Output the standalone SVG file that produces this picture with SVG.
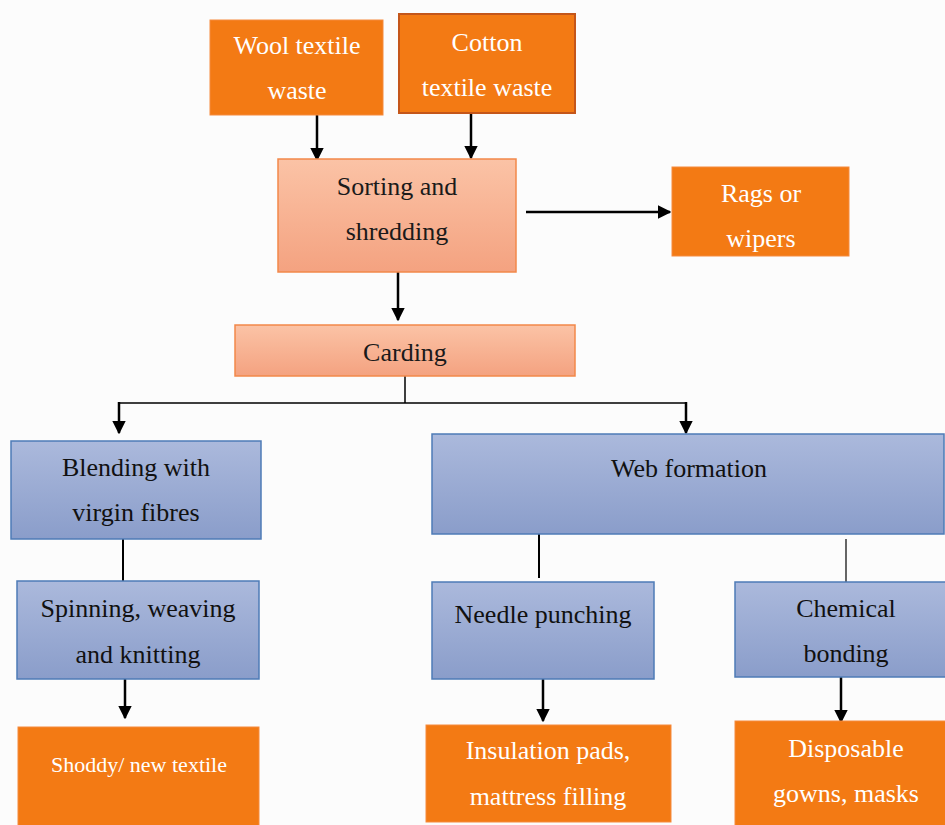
<svg xmlns="http://www.w3.org/2000/svg" width="945" height="825" viewBox="0 0 945 825">
<defs>
<linearGradient id="gSalmon" x1="0" y1="0" x2="0" y2="1"><stop offset="0" stop-color="#fbc3a6"/><stop offset="1" stop-color="#f4a280"/></linearGradient>
<linearGradient id="gBlue" x1="0" y1="0" x2="0" y2="1"><stop offset="0" stop-color="#abb9dc"/><stop offset="1" stop-color="#8a9dca"/></linearGradient>
<marker id="arr" viewBox="0 0 10 10" refX="9" refY="5" markerWidth="5.5" markerHeight="5.5" orient="auto" markerUnits="strokeWidth"><path d="M0,0 L10,5 L0,10 z" fill="#000"/></marker>
<style>
text{font-family:"Liberation Serif","Times New Roman",serif;font-size:26px;text-anchor:middle}
.or rect{fill:#f37a14;stroke:#f58a3c;stroke-width:1}
.or text{fill:#fff}
.sa rect{fill:url(#gSalmon);stroke:#f2884a;stroke-width:1.5}
.sa text{fill:#1a1a1a}
.bl rect{fill:url(#gBlue);stroke:#4e7bb6;stroke-width:1.5}
.bl text{fill:#111}
.c line,.c path{stroke:#000;fill:none}
.a{stroke-width:2.5;marker-end:url(#arr)}
.t{stroke-width:1.5}
</style>
</defs>
<rect width="945" height="825" fill="#fcfcfc"/>
<g class="c" id="connectors">
<line class="a" x1="317" y1="115" x2="317" y2="160"/>
<line class="a" x1="471" y1="113" x2="471" y2="158"/>
<line class="a" x1="526" y1="212" x2="670" y2="212"/>
<line class="a" x1="398" y1="272" x2="398" y2="320"/>
<path class="t" d="M405,376 V403 M118,403 H687"/>
<line class="a" x1="119" y1="402" x2="119" y2="433"/>
<line class="a" x1="686" y1="402" x2="686" y2="433"/>
<line stroke-width="2" x1="123" y1="539" x2="123" y2="581"/>
<line stroke-width="2" x1="539" y1="534" x2="539" y2="578"/>
<line stroke-width="1.2" x1="846" y1="539" x2="846" y2="582"/>
<line class="a" x1="125" y1="679" x2="125" y2="718"/>
<line class="a" x1="543" y1="679" x2="543" y2="721"/>
<line class="a" x1="841" y1="677" x2="841" y2="722"/>
</g>
<g id="wool" class="or"><rect x="210" y="20" width="173" height="95"/><text x="297" y="54">Wool textile</text><text x="297" y="99">waste</text></g>
<g id="cotton" class="or"><rect x="399" y="14" width="176" height="99" style="stroke:#c4561a;stroke-width:2"/><text x="487" y="51">Cotton</text><text x="487" y="96">textile waste</text></g>
<g id="sorting" class="sa"><rect x="278" y="159" width="238" height="113"/><text x="397" y="195">Sorting and</text><text x="397" y="240">shredding</text></g>
<g id="rags" class="or"><rect x="672" y="167" width="177" height="89"/><text x="761" y="202">Rags or</text><text x="761" y="247">wipers</text></g>
<g id="carding" class="sa"><rect x="235" y="325" width="340" height="51"/><text x="405" y="361">Carding</text></g>
<g id="blending" class="bl"><rect x="11" y="441" width="250" height="98"/><text x="136" y="476">Blending with</text><text x="136" y="521">virgin fibres</text></g>
<g id="web" class="bl"><rect x="432" y="434" width="512" height="100"/><text x="689" y="477">Web formation</text></g>
<g id="spinning" class="bl"><rect x="17" y="581" width="242" height="98"/><text x="138" y="617">Spinning, weaving</text><text x="138" y="663">and knitting</text></g>
<g id="needle" class="bl"><rect x="432" y="582" width="222" height="97"/><text x="543" y="623">Needle punching</text></g>
<g id="chemical" class="bl"><rect x="735" y="582" width="212" height="95"/><text x="846" y="617">Chemical</text><text x="846" y="662">bonding</text></g>
<g id="shoddy" class="or"><rect x="18" y="727" width="241" height="100"/><text x="139" y="772" style="font-size:22px">Shoddy/ new textile</text></g>
<g id="insulation" class="or"><rect x="426" y="725" width="245" height="97"/><text x="548" y="759">Insulation pads,</text><text x="548" y="805">mattress filling</text></g>
<g id="disposable" class="or"><rect x="735" y="721" width="212" height="106"/><text x="846" y="757">Disposable</text><text x="846" y="802">gowns, masks</text></g>
</svg>
